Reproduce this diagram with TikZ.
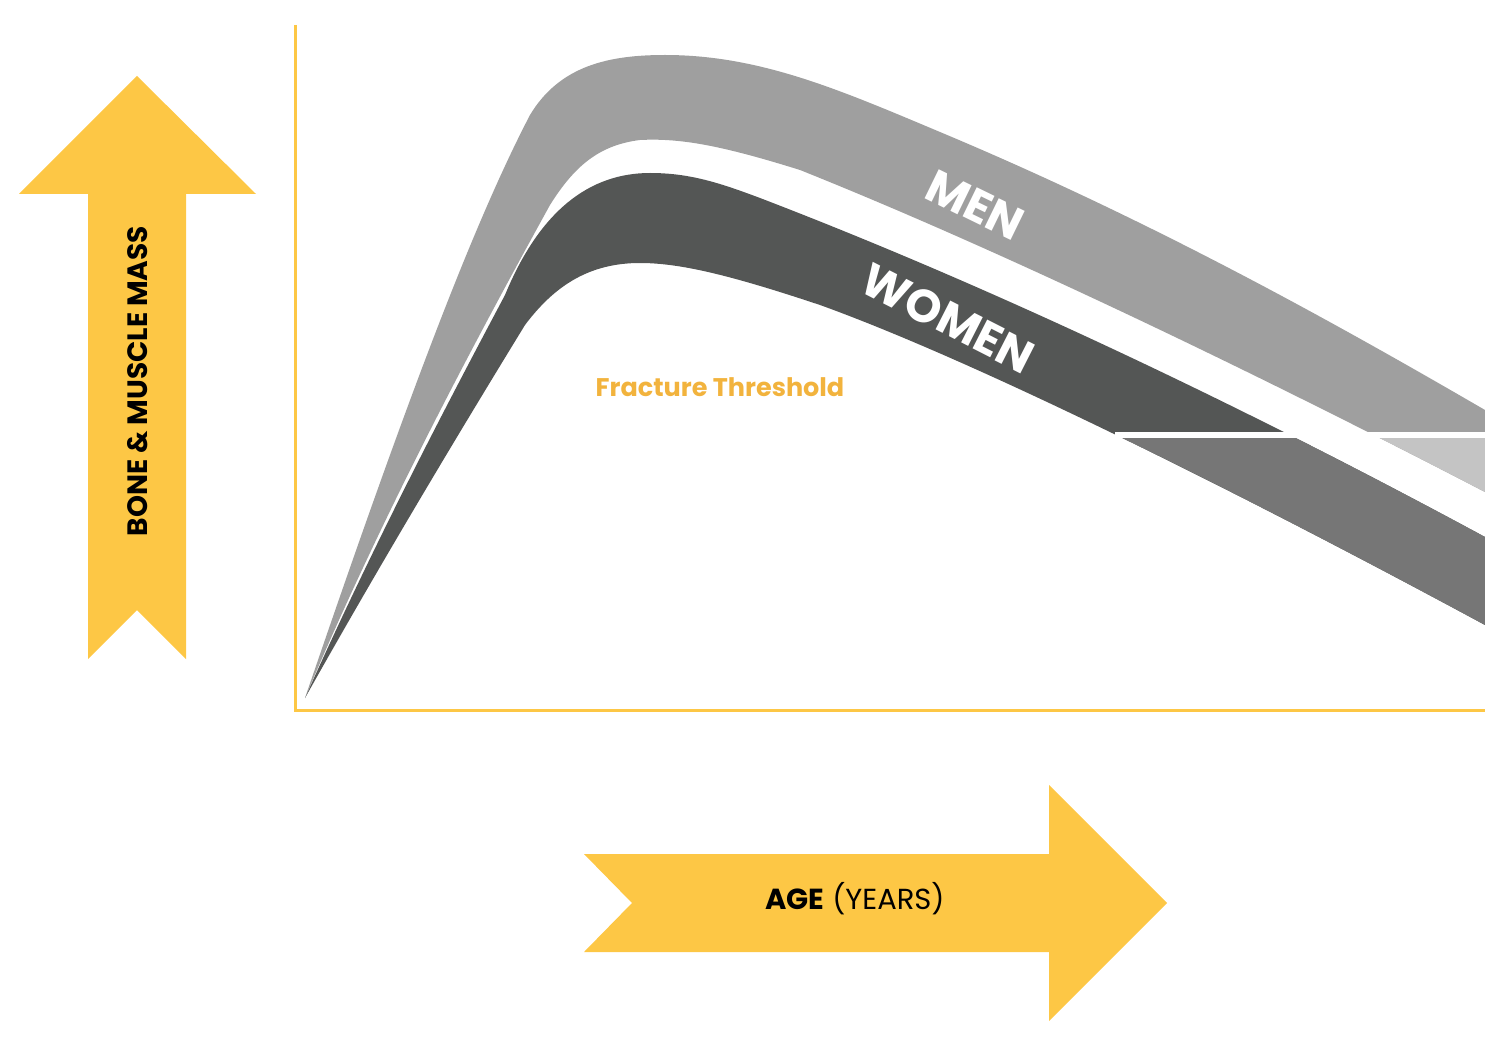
\documentclass[tikz,border=0pt]{standalone}
\usepackage{fontspec}
\setmainfont{Poppins}
\begin{document}
\begin{tikzpicture}[x=1pt,y=-1pt,
  ylw/.style={fill={rgb,255:red,253;green,199;blue,69}},
  lbl/.style={text=white,font=\fontsize{46}{46}\selectfont\bfseries}]
\useasboundingbox (0,0) rectangle (1503,1040);
\definecolor{menc}{HTML}{9F9F9F}\definecolor{menl}{HTML}{C4C4C4}
\definecolor{womc}{HTML}{545655}\definecolor{woml}{HTML}{767676}
\definecolor{axc}{RGB}{253,199,69}
\def\menpath{(305,698) .. controls (400,420) and (470,230) .. (530,115) .. controls (560,65) and (610,55) .. (665,55) .. controls (760,55) and (840,90) .. (940,132) .. controls (1150,220) and (1330,320) .. (1485,410) -- (1485,492) .. controls (1250,370) and (1000,250) .. (800,170) .. controls (720,145) and (680,138) .. (640,140) .. controls (600,145) and (575,165) .. (550,205) .. controls (470,350) and (380,520) .. (305,698) -- cycle}
\def\wompath{(305,698) .. controls (380,530) and (460,380) .. (505,295) .. controls (540,210) and (590,173) .. (650,173) .. controls (690,173) and (720,183) .. (760,198) .. controls (1000,290) and (1250,410) .. (1485,537) -- (1485,625) .. controls (1300,525) and (1000,370) .. (820,305) .. controls (730,275) and (680,263) .. (640,263) .. controls (590,263) and (555,285) .. (525,325) .. controls (430,480) and (360,600) .. (305,698) -- cycle}
\fill[menc] \menpath;
\fill[womc] \wompath;
\begin{scope}
\clip (1115,437) rectangle (1485,1040);
\fill[menl] \menpath;
\fill[woml] \wompath;
\end{scope}
\fill[white] (1115,432) rectangle (1490,438);
\fill[white] (1485,0) rectangle (1503,720);
\draw[axc,line width=3] (295,25) -- (295,710) -- (1485,710);
\fill[ylw] (137,76) -- (256,194) -- (186,194) -- (186,659) -- (137,610) -- (88,659) -- (88,194) -- (19,194) -- cycle;
\fill[ylw] (584,854) -- (1049,854) -- (1049,785) -- (1167,903) -- (1049,1021) -- (1049,952) -- (584,952) -- (632,903) -- cycle;
\node[rotate=90,font=\fontsize{28}{28}\selectfont\bfseries] (ylab) at (138,381) {BONE \& MUSCLE MASS};
\node[font=\fontsize{29}{29}\selectfont] (xlab) at (855,899) {\textbf{AGE} (YEARS)};
\node[lbl,rotate=-26] (men) at (975,205) {MEN};
\node[lbl,rotate=-27] (women) at (948,318) {WOMEN};
\node[text={rgb,255:red,242;green,179;blue,61},font=\fontsize{25.5}{25.5}\selectfont\bfseries] (ft) at (720,387) {Fracture Threshold};
\end{tikzpicture}
\end{document}
